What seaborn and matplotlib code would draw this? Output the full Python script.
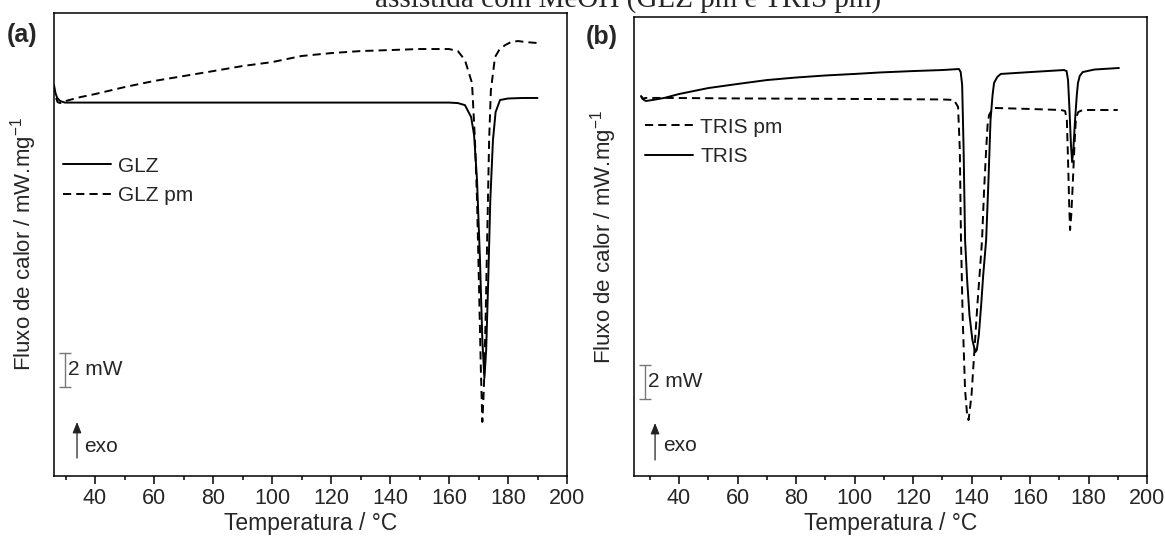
import matplotlib
matplotlib.use("Agg")
import matplotlib.pyplot as plt
import pandas as pd
import seaborn as sns
from matplotlib.lines import Line2D
from matplotlib.ticker import MultipleLocator

# ---------------- data (heat flow in mW, arbitrary offset) ----------------
glz_T = [26.1, 26.6, 27.2, 28.2, 29.8, 60, 100, 140, 160, 163, 165.4, 167.5, 168.5,
         169.5, 170.5, 171.3, 172, 172.6, 173.3, 174, 174.9, 175.8, 177.3, 180, 185, 190]
glz_flux = [23.00, 22.53, 22.24, 22.06, 21.97, 21.97, 21.97, 21.97, 21.97, 21.94, 21.82,
            21.12, 20.06, 17.41, 12.71, 8.00, 5.76, 7.41, 11.53, 16.24, 19.76, 21.41,
            22.12, 22.21, 22.24, 22.24]

glzpm_T = [26.8, 27.3, 28.2, 30, 35, 40, 50, 60, 70, 80, 90, 100, 110, 120, 130, 140, 150,
           160, 163, 165.4, 167.8, 168.8, 169.5, 170.2, 170.8, 171.3, 171.8, 172.4, 173,
           173.6, 174.2, 175.6, 177, 179, 181, 183.4, 186, 190.2]
glzpm_flux = [22.24, 22.00, 21.94, 22.06, 22.29, 22.47, 22.88, 23.24, 23.53, 23.82, 24.12,
              24.35, 24.71, 24.88, 25.00, 25.06, 25.12, 25.12, 25.00, 24.47, 23.12, 19.76,
              16.24, 10.94, 6.24, 3.18, 5.06, 9.18, 14.47, 19.76, 22.71, 24.65, 25.06,
              25.35, 25.53, 25.59, 25.53, 25.47]

tris_T = [27, 28, 28.7, 31, 35, 40, 50, 60, 70, 80, 90, 100, 109, 120, 130, 135.7, 136.3,
          136.8, 137.3, 137.8, 138.5, 139.3, 140.3, 141.3, 141.8, 142.5, 143.3, 144, 145,
          145.8, 146.5, 147.2, 147.7, 148.8, 150, 160, 171.6, 172.5, 173, 173.5, 174,
          174.4, 174.8, 175.4, 176, 176.4, 177, 178, 182, 190.4]
tris_flux = [22.35, 22.12, 22.06, 22.12, 22.24, 22.47, 22.82, 23.06, 23.29, 23.44, 23.56,
             23.65, 23.74, 23.82, 23.88, 23.94, 23.76, 23.00, 19.18, 13.88, 11.53, 9.47,
             8.00, 7.29, 7.41, 8.29, 10.06, 11.82, 13.88, 17.41, 20.94, 22.41, 23.12,
             23.47, 23.65, 23.76, 23.88, 23.82, 23.29, 21.53, 19.47, 18.47, 19.18, 20.94,
             22.41, 23.12, 23.53, 23.76, 23.91, 24.00]

trispm_T = [27, 27.5, 28.5, 35, 60, 100, 130, 134, 135.4, 136, 136.4, 137, 137.8, 138.5,
            139, 140, 141, 142, 143, 143.6, 144.3, 145, 145.5, 146, 147, 147.7, 160, 170.6,
            172, 172.6, 173, 173.4, 173.7, 174.1, 174.6, 175.2, 175.7, 176.5, 178, 190]
trispm_flux = [22.35, 22.18, 22.24, 22.24, 22.21, 22.18, 22.15, 22.12, 21.71, 19.18, 13.88,
               9.18, 5.06, 3.59, 3.29, 4.76, 7.41, 10.06, 12.41, 13.88, 16.82, 19.18,
               20.65, 21.24, 21.53, 21.65, 21.59, 21.53, 21.47, 20.94, 18.59, 15.94, 14.47,
               15.35, 17.12, 19.47, 21.06, 21.41, 21.53, 21.53]

labels_a = ["GLZ", "GLZ pm"]
labels_b = ["TRIS pm", "TRIS"]
x_major = [40, 60, 80, 100, 120, 140, 160, 180, 200]
title_text = "assistida com MeOH (GLZ pm e TRIS pm)"
ylabel_text = "Fluxo de calor / mW.mg$^{\\mathregular{-1}}$"
xlabel_text = "Temperatura / \u00b0C"

# ---------------- style ----------------
sns.set_theme(style="white")
plt.rcParams["font.family"] = ["Liberation Sans", "DejaVu Sans"]
plt.rcParams["mathtext.fontset"] = "custom"
plt.rcParams["mathtext.rm"] = "Liberation Sans"
plt.rcParams["mathtext.it"] = "Liberation Sans:italic"
plt.rcParams["mathtext.bf"] = "Liberation Sans:bold"

LW = 1.4
DASH = (0, (4.2, 2.6))
FS = 15

W, H = 1165, 538
fig = plt.figure(figsize=(W / 100, H / 100), dpi=100)
ax_a = fig.add_axes([54 / W, 1 - 476 / H, 513 / W, 463 / H])
ax_b = fig.add_axes([634 / W, 1 - 476 / H, 513 / W, 459 / H])


def draw(ax, T, y, dashed):
    df = pd.DataFrame({"T": T, "flux": y})
    sns.lineplot(data=df, x="T", y="flux", ax=ax, color="black", lw=LW,
                 estimator=None, sort=False)
    if dashed:
        ax.lines[-1].set_linestyle(DASH)


draw(ax_a, glz_T, glz_flux, False)
draw(ax_a, glzpm_T, glzpm_flux, True)
draw(ax_b, tris_T, tris_flux, False)
draw(ax_b, trispm_T, trispm_flux, True)


def style(ax, xlim, ylim, ylab_xy):
    ax.set_xlim(*xlim)
    ax.set_ylim(*ylim)
    ax.set_xticks(x_major)
    ax.xaxis.set_minor_locator(MultipleLocator(10))
    ax.set_yticks([])
    ax.tick_params(axis="x", which="major", direction="out", length=5.5, width=1.1,
                   color="black", labelsize=15.5, pad=3, bottom=True)
    ax.tick_params(axis="x", which="minor", direction="out", length=3, width=1.1,
                   color="black", bottom=True)
    for s in ax.spines.values():
        s.set_visible(True)
        s.set_color("black")
        s.set_linewidth(1.1)
    ax.set_xlabel(xlabel_text, fontsize=16.5, labelpad=2)
    ax.set_ylabel(ylabel_text, fontsize=16)
    ax.yaxis.set_label_coords(*ylab_xy)


style(ax_a, (26.1, 200), (0, 27.24), (-0.03, 0.5))
style(ax_b, (24.6, 200), (0, 27.0), (-0.03, 0.52))


def scale_and_exo(ax, bar_x, bar_y0, arr_x, arr_y0, arr_y1, exo_x, exo_y):
    ax.plot([bar_x, bar_x], [bar_y0, bar_y0 + 2], color="#777777", lw=1.0)
    ax.plot([bar_x, bar_x], [bar_y0, bar_y0 + 2], ls="none", marker="_", ms=8,
            mew=1.0, color="#777777")
    ax.text(bar_x + 1.0, bar_y0 + 1, "2 mW", fontsize=FS, va="center", ha="left")
    ax.annotate("", xy=(arr_x, arr_y1), xytext=(arr_x, arr_y0),
                arrowprops=dict(arrowstyle="-|>,head_length=0.55,head_width=0.22",
                                color="#222222", lw=0.9, shrinkA=0, shrinkB=0))
    ax.text(exo_x, exo_y, "exo", fontsize=FS, va="center", ha="left")


scale_and_exo(ax_a, 29.8, 5.24, 33.9, 1.06, 3.18, 36.4, 1.71)
scale_and_exo(ax_b, 28.4, 4.53, 31.8, 0.94, 3.12, 34.4, 1.82)


def legend(ax, labels, styles, anchor):
    handles = [Line2D([], [], color="black", lw=LW, ls=s) for s in styles]
    ax.legend(handles, labels, loc="upper left", bbox_to_anchor=anchor, frameon=False,
              borderpad=0, borderaxespad=0, handlelength=2.3, handletextpad=0.35,
              labelspacing=0.5, fontsize=FS)


legend(ax_a, labels_a, ["-", DASH], (0.0175, 0.69))
legend(ax_b, labels_b, [DASH, "-"], (0.0214, 0.781))

fig.text(22 / W, 1 - 35 / H, "(a)", fontsize=18, fontweight="bold", ha="center",
         va="center")
fig.text(602 / W, 1 - 37 / H, "(b)", fontsize=18, fontweight="bold", ha="center",
         va="center")
fig.text(628 / W, 1 - 7 / H, title_text, fontsize=21, family="Liberation Serif",
         ha="center", va="baseline")

fig.savefig("out.png", dpi=100)
